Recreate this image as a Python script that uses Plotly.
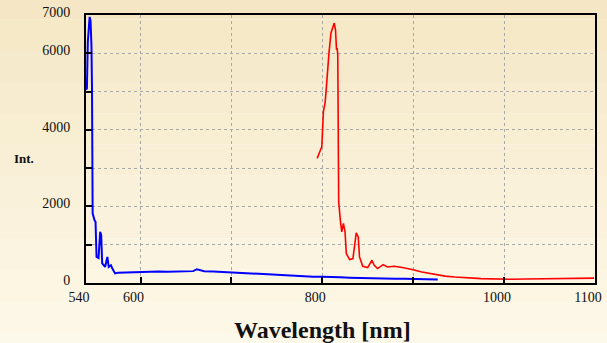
import plotly.graph_objects as go

# Blue spectrum (wavelength nm, intensity)
blue_wl = [540, 541, 542, 543, 544, 545, 546, 546.6, 547.3, 549.4, 550.5, 551.6, 553.8, 555.0, 555.6,
           556.7, 557.8, 561, 563.5, 565, 567.5, 569, 572, 575, 580, 590, 600, 610, 620, 630, 640,
           650, 658, 662, 666, 670, 680, 690, 700, 710, 720, 730, 740, 750, 760, 770, 780, 790,
           800, 810, 820, 830, 840, 850, 860, 870, 880, 890, 900, 910, 920, 927]
blue_int = [5050, 5080, 6300, 6800, 6950, 6850, 6200, 5100, 1820, 1640, 1600, 680, 650, 1100, 1335,
            1250, 515, 420, 680, 420, 463, 377, 250, 265, 270, 285, 280, 290, 300, 295, 300,
            305, 310, 360, 330, 305, 300, 290, 280, 275, 260, 245, 230, 215, 200, 185, 175, 165,
            160, 160, 150, 140, 130, 135, 120, 115, 110, 112, 105, 95, 95, 90]

# Red spectrum
red_wl = [794.3, 797, 799.4, 801.2, 803, 804.1, 805.6, 807.3, 809.5, 812, 813.1, 814.5, 815.6, 816.3,
          817, 817.5, 818, 820, 821.4, 823.2, 825, 826.4, 830, 833.7, 836.2, 837.3, 839.5, 840.9,
          844.5, 849.9, 854.6, 857.1, 860.8, 866.9, 871.6, 878.8, 887.9, 895, 898.7, 909.5, 920.4,
          927.6, 935, 945.6, 952.9, 970.8, 974.6, 990, 1007, 1025, 1043, 1060, 1079, 1099]
red_int = [3256, 3400, 3560, 4476, 4700, 5000, 5613, 6005, 6529, 6746, 6790, 6615, 6092, 6136,
           5960, 3657, 2120, 1597, 1335, 1555, 1335, 770, 613, 639, 1204, 1309, 1204, 681,
           437, 403, 594, 463, 377, 481, 419, 437, 403, 377, 351, 288, 235,
           202, 180, 157, 141, 120, 115, 105, 97, 105, 112, 118, 125, 128]

x_tickvals = [540, 600, 700, 800, 900, 1000, 1100]
x_ticktext = ['540', '600', '', '800', '', '1000', '1100']
y_tickvals = [0, 1000, 2000, 3000, 4000, 5000, 6000, 7000]
y_ticktext = ['0', '', '2000', '', '4000', '', '6000', '7000']

fig = go.Figure()
fig.add_trace(go.Scatter(x=blue_wl, y=blue_int, mode='lines',
                         line=dict(color='#0000ff', width=2), showlegend=False))
fig.add_trace(go.Scatter(x=red_wl, y=red_int, mode='lines',
                         line=dict(color='#ff0000', width=1.6), showlegend=False))

# cream vertical gradient background bands
top = (245, 231, 197)
bot = (253, 249, 234)
n = 12
shapes = []
for i in range(n):
    t = i / (n - 1)
    c = tuple(int(round(top[k] + (bot[k] - top[k]) * t)) for k in range(3))
    shapes.append(dict(type='rect', xref='paper', yref='paper',
                       x0=-0.2, x1=1.1, y0=1.1 - (i + 1) * (1.4 / n), y1=1.1 - i * (1.4 / n),
                       fillcolor='rgb(%d,%d,%d)' % c, line=dict(width=0), layer='below'))

axis_font = dict(family='Liberation Serif', size=14, color='#111111')
fig.update_layout(
    width=607, height=343,
    margin=dict(l=86, r=5, t=15, b=60),
    paper_bgcolor='rgb(249,240,216)',
    plot_bgcolor='white',
    shapes=shapes,
    xaxis=dict(range=[540, 1100], tickvals=x_tickvals, ticktext=x_ticktext,
               showgrid=True, gridcolor='#a8a8a8', griddash='dot', gridwidth=1,
               showline=True, linecolor='black', linewidth=2, mirror=True,
               ticks='inside', ticklen=6, tickcolor='black', tickwidth=1.5,
               tickfont=axis_font, zeroline=False, ticklabelshift=-7),
    yaxis=dict(range=[0, 7000], tickvals=y_tickvals, ticktext=y_ticktext,
               showgrid=True, gridcolor='#a8a8a8', griddash='dot', gridwidth=1,
               showline=True, linecolor='black', linewidth=2, mirror=True,
               ticks='inside', ticklen=6, tickcolor='black', tickwidth=1.5,
               tickfont=axis_font, zeroline=False, ticklabelshift=-3,
               ticklabelstandoff=11),
    annotations=[
        dict(text='<b>Int.</b>', xref='paper', yref='paper', x=-0.145, y=0.465,
             xanchor='left', yanchor='middle', showarrow=False,
             font=dict(family='Liberation Serif', size=13, color='#111111')),
        dict(text='<b>Wavelength [nm]</b>', xref='paper', yref='paper', x=0.465, y=-0.175,
             xanchor='center', yanchor='middle', showarrow=False,
             font=dict(family='Liberation Serif', size=24, color='#111111')),
    ],
)

fig.write_html('out.html')
